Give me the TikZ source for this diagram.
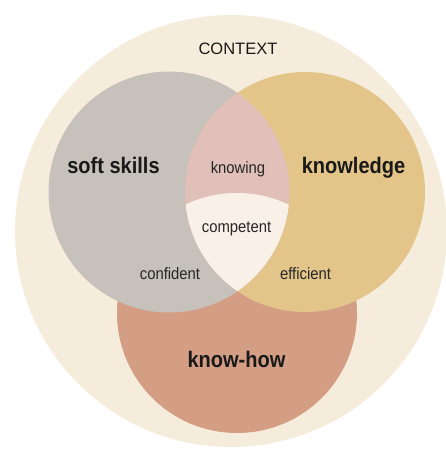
\documentclass[tikz,border=0pt]{standalone}
\usepackage{fontspec}
\setmainfont{Liberation Sans}
\newfontfamily\lightcond[FakeStretch=0.9]{Liberation Sans}
\newfontfamily\boldcond[FakeStretch=0.89]{Liberation Sans Bold}
\definecolor{ctxcol}{HTML}{F6ECDC}
\definecolor{softcol}{HTML}{C6C1BA}
\definecolor{knowcol}{HTML}{E3C58A}
\definecolor{howcol}{HTML}{D49E84}
\definecolor{lenscol}{HTML}{E0C0B8}
\definecolor{corecol}{HTML}{F9F1E7}
\tikzset{
  disc/.style={circle, inner sep=0pt, draw=none},
  biglabel/.style={anchor=base, inner sep=0pt, font=\boldcond\fontsize{22.5}{24}\selectfont, text=black!90},
  smalllabel/.style={anchor=base, inner sep=0pt, font=\lightcond\fontsize{16.5}{18}\selectfont, text=black!85},
  ctxlabel/.style={anchor=base, inner sep=0pt, font=\fontsize{16.5}{18}\selectfont, text=black!90}
}
\begin{document}
\begin{tikzpicture}[x=1pt,y=-1pt]
\useasboundingbox (0,0) rectangle (446,450);
\begin{scope}
\clip (0,0) rectangle (446,450);
% context
\node[disc, fill=ctxcol, minimum size=432pt] (ctx) at (231,231) {};
% know-how
\node[disc, fill=howcol, minimum size=240pt] (how) at (237,313) {};
% soft skills
\node[disc, fill=softcol, minimum size=241pt] (soft) at (169,192) {};
% knowledge
\node[disc, fill=knowcol, minimum size=240pt] (know) at (305,192) {};
% lens soft & knowledge
\begin{scope}
  \clip (169,192) circle (120.5);
  \fill[lenscol] (305,192) circle (120);
  \clip (305,192) circle (120);
  \fill[corecol] (237,313) circle (120);
\end{scope}
\end{scope}
% labels
\node[ctxlabel] (tctx) at (238,54.3) {CONTEXT};
\node[biglabel] (tsoft) at (113.5,173) {soft skills};
\node[biglabel] (tknow) at (353.5,173) {knowledge};
\node[biglabel] (thow) at (236.5,367) {know-how};
\node[smalllabel] (tknowing) at (238,173.3) {knowing};
\node[smalllabel] (tcomp) at (236.5,232) {competent};
\node[smalllabel] (tconf) at (170,279) {confident};
\node[smalllabel] (teff) at (305.5,279) {efficient};
\end{tikzpicture}
\end{document}
